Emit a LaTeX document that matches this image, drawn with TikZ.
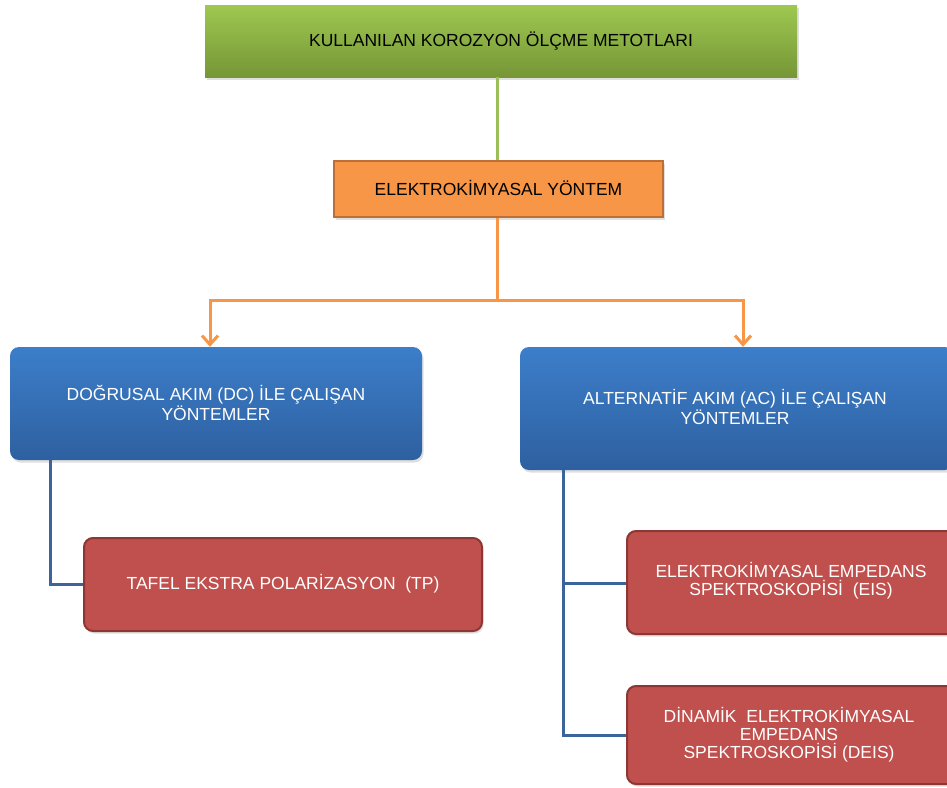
\documentclass[tikz,border=0pt]{standalone}
\usepackage{fontspec}
\setmainfont{Liberation Sans}
\usetikzlibrary{arrows.meta,shadows}
\definecolor{grtop}{RGB}{158,200,80}
\definecolor{grbot}{RGB}{118,150,55}
\definecolor{grline}{RGB}{155,190,90}
\definecolor{orfill}{RGB}{247,150,70}
\definecolor{ordraw}{RGB}{190,110,55}
\definecolor{bltop}{RGB}{60,126,202}
\definecolor{blbot}{RGB}{46,96,160}
\definecolor{blline}{RGB}{60,100,155}
\definecolor{rdfill}{RGB}{192,80,77}
\definecolor{rddraw}{RGB}{140,55,52}
\tikzset{
  txt/.style={font=\fontsize{17.5}{18}\selectfont, align=center, inner sep=0pt},
  wtxt/.style={txt, text=white},
  shad/.style={drop shadow={opacity=0.25, shadow xshift=1.5pt, shadow yshift=-2.5pt}},
  greenbox/.style={shad, top color=grtop, bottom color=grbot, draw=none, minimum width=592pt, minimum height=72pt, inner sep=0pt},
  orangebox/.style={shad, fill=orfill, draw=ordraw, line width=2pt, minimum width=329pt, minimum height=56pt, inner sep=0pt},
  bluebox/.style={shad, top color=bltop, bottom color=blbot, draw=none, rounded corners=9pt, inner sep=0pt},
  redbox/.style={shad, fill=rdfill, draw=rddraw, line width=2pt, rounded corners=9pt, inner sep=0pt},
  gline/.style={draw=grline, line width=3pt},
  oline/.style={draw=orfill, line width=3pt},
  bline/.style={draw=blline, line width=3pt},
}
\begin{document}
\begin{tikzpicture}[x=1pt,y=-1pt]
\useasboundingbox (0,0) rectangle (947,787);
\clip (0,0) rectangle (947,787);
% boxes
\node[greenbox] (top) at (501,41) {};
\node[txt] (toptxt) at (501,41) {KULLANILAN KOROZYON ÖLÇME METOTLARI};
\node[orangebox] (ec) at (498.5,189) {};
\node[txt] (ectxt) at (498.5,188) {ELEKTROKİMYASAL YÖNTEM};
\node[bluebox, minimum width=412pt, minimum height=113pt] (dc) at (216,403.5) {};
\node[wtxt] (dctxt) at (216,403) {DOĞRUSAL AKIM\ (DC) İLE ÇALIŞAN\\YÖNTEMLER};
\node[bluebox, minimum width=434pt, minimum height=123pt] (ac) at (737,408.5) {};
\node[wtxt] (actxt) at (735,407) {ALTERNATİF AKIM (AC) İLE ÇALIŞAN\\YÖNTEMLER};
\node[redbox, minimum width=398pt, minimum height=93pt] (tp) at (283,584.5) {};
\node[wtxt] (tptxt) at (283,584) {TAFEL EKSTRA POLARİZASYON\ \ (TP)};
\node[redbox, minimum width=330pt, minimum height=103pt] (eis) at (792,582.5) {};
\node[wtxt] (eistxt) at (791,581) {ELEKTROKİMYASAL EMPEDANS\\SPEKTROSKOPİSİ\ \ (EIS)};
\node[redbox, minimum width=330pt, minimum height=98pt] (deis) at (792,735) {};
\node[wtxt] (deistxt) at (789,735) {DİNAMİK\ \ ELEKTROKİMYASAL\\EMPEDANS\\SPEKTROSKOPİSİ (DEIS)};
% connectors
\coordinate (oj) at (497,300);
\draw[gline] (top.south -| 497,0) -- (ec.north -| 497,0);
\draw[oline] (ec.south -| 497,0) -- (oj);
\draw[oline, -{Straight Barb[length=9pt,width=16pt,line width=3pt]}] (oj) -| (dc.north -| 210,0);
\draw[oline, -{Straight Barb[length=9pt,width=16pt,line width=3pt]}] (oj) -| (ac.north -| 743,0);
\draw[bline] (dc.south -| 50,0) |- (tp.west);
\draw[bline] (ac.south -| 563,0) |- (deis.west);
\draw[bline] (563,583) -- (eis.west |- 563,583);
\end{tikzpicture}
\end{document}
